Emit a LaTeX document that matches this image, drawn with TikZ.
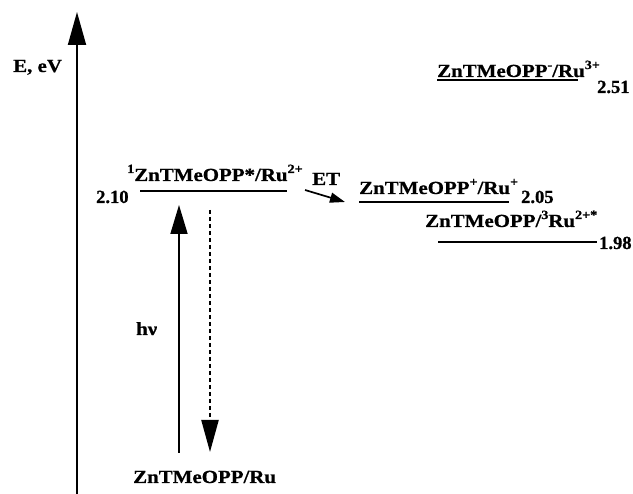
\documentclass[tikz,border=0pt]{standalone}
\usepackage{fontspec}
\setmainfont{Liberation Serif}
\newfontfamily\labfont{Liberation Serif}[FakeStretch=1.13,FakeBold=0.8]
\newfontfamily\numfont{Liberation Serif}[FakeBold=0.8]
\usetikzlibrary{arrows.meta}
\newcommand{\spr}[1]{\raisebox{8pt}{\fontsize{12.5pt}{13pt}\selectfont #1}}
\begin{document}
\begin{tikzpicture}[x=1pt,y=-1pt,
  lab/.style={anchor=base west,inner sep=0pt,font=\labfont\bfseries\fontsize{18.5pt}{20pt}\selectfont},
  num/.style={anchor=base west,inner sep=0pt,font=\numfont\bfseries\fontsize{18.5pt}{20pt}\selectfont},
  level/.style={line width=1.8pt},
  axisline/.style={line width=1.8pt,-{Triangle[length=33pt,width=18pt]}},
  trans/.style={line width=1.7pt,-{Triangle[length=29pt,width=17pt]}},
  relax/.style={line width=2.2pt,dash pattern=on 4pt off 3pt,-{Triangle[length=32pt,width=17pt]}},
  etarrow/.style={line width=1.7pt,-{Triangle[length=15pt,width=10pt]}}]
\useasboundingbox (0,0) rectangle (633,494);
% axis
\coordinate (axb) at (77,494);
\coordinate (axt) at (77,12);
\draw[axisline] (axb) -- (axt);
\node[lab] (elab) at (13,72) {E, eV};
% level 1
\coordinate (l1a) at (140,191);
\coordinate (l1b) at (287,191);
\draw[level] (l1a) -- (l1b);
\node[lab] (t1) at (127,181) {\spr{1}ZnTMeOPP*/Ru\spr{2+}};
\node[num] (v1) at (96,203) {2.10};
% level 2
\coordinate (l2a) at (359,202);
\coordinate (l2b) at (509,202);
\draw[level] (l2a) -- (l2b);
\node[lab] (t2) at (359,194) {ZnTMeOPP\spr{+}/Ru\spr{+}};
\node[num] (v2) at (521,203) {2.05};
% level 3
\coordinate (l3a) at (438,242);
\coordinate (l3b) at (597,242);
\draw[level] (l3a) -- (l3b);
\node[lab] (t3) at (425,227) {ZnTMeOPP/\spr{3}Ru\spr{2+*}};
\node[num] (v3) at (599,249) {1.98};
% level 4
\coordinate (l4a) at (437,80);
\coordinate (l4b) at (578,80);
\draw[level] (l4a) -- (l4b);
\node[lab] (t4) at (437,77) {ZnTMeOPP\spr{-}/Ru\spr{3+}};
\node[num] (v4) at (597,93) {2.51};
% ground state
\node[lab] (g) at (133,483) {ZnTMeOPP/Ru};
% excitation and relaxation
\coordinate (hb) at (179,453);
\coordinate (ht) at (179,205);
\draw[trans] (hb) -- (ht);
\node[lab] (hv) at (136,335) {hν};
\coordinate (rt) at (210,210);
\coordinate (rb) at (210,452);
\draw[relax] (rt) -- (rb);
% electron transfer
\coordinate (eta) at (305,190);
\coordinate (etb) at (345,202);
\draw[etarrow] (eta) -- (etb);
\node[lab] (et) at (312,185) {ET};
\end{tikzpicture}
\end{document}
